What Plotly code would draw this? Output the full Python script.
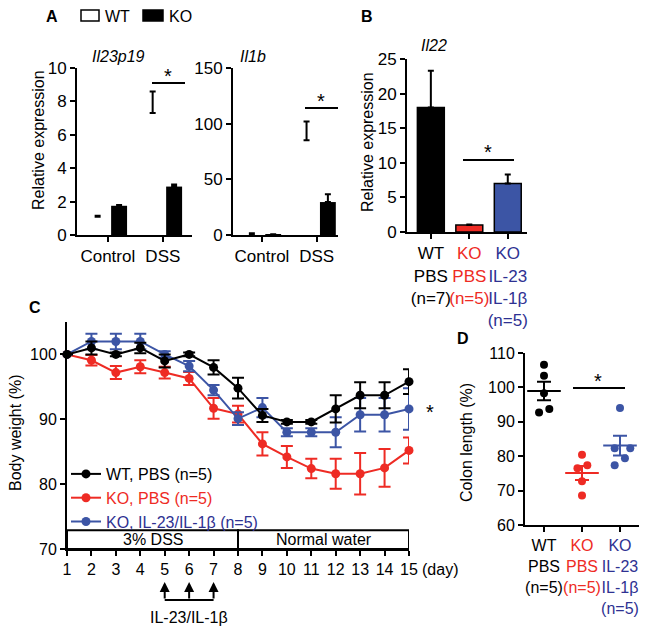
import numpy as np
import plotly.graph_objects as go

W, H = 653, 634
PAGE_PAD = 8  # the page body margin moves the figure by this much

RED = "#EE2B24"
BLUE = "#3C55A5"
BLUE_TXT = "#2E3192"
FONT = "Liberation Sans, Arial, sans-serif"

# panel A - qPCR, Il23p19 / Il1b (mean, sem)
a_groups = ["Control", "DSS"]
il23_wt = [1.1, 7.3]
il23_wt_sem = [0.05, 1.3]
il23_ko = [1.75, 2.9]
il23_ko_sem = [0.05, 0.12]
il1b_wt = [1.0, 85.0]
il1b_wt_sem = [0.5, 17.0]
il1b_ko = [0.5, 29.6]
il1b_ko_sem = [0.2, 7.0]

# panel B - Il22
b_labels = ["WT<br>PBS<br>(n=7)",
            f"<span style='color:{RED}'>KO<br>PBS<br>(n=5)</span>",
            f"<span style='color:{BLUE_TXT}'>KO<br>IL-23<br>IL-1β<br>(n=5)</span>"]
il22 = [18.0, 1.0, 7.0]
il22_sem = [5.3, 0.1, 1.3]

# panel C - body weight
days = list(range(1, 16))
wt_bw = [100, 101.0, 100.0, 101.0, 99.0, 100.0, 98.0, 94.8, 90.6, 89.6, 89.6, 91.6, 93.7, 93.7, 95.8]
wt_bw_sem = [0, 1.0, 0.3, 0.8, 1.0, 0.3, 1.1, 1.6, 1.0, 0.3, 0.3, 2.1, 2.0, 2.0, 1.9]
ko_bw = [100, 99.1, 97.2, 98.1, 97.2, 96.3, 91.7, 90.8, 86.2, 84.2, 82.4, 81.6, 81.6, 82.5, 85.2]
ko_bw_sem = [0, 0.8, 1.0, 1.0, 0.9, 1.0, 1.6, 1.3, 1.8, 1.7, 1.5, 2.3, 3.2, 2.9, 2.0]
il_bw = [100, 102.0, 102.0, 102.0, 100.0, 98.2, 94.5, 90.1, 91.8, 88.0, 88.0, 88.0, 90.7, 90.7, 91.6]
il_bw_sem = [0, 1.2, 1.2, 1.2, 0.5, 0.8, 0.8, 1.0, 1.5, 0.6, 0.6, 2.3, 2.6, 2.6, 3.2]
dss_days = (1, 8)
water_days = (8, 15)
inject_days = [5, 6, 7]

# panel D - colon length
d_labels = ["WT<br>PBS<br>(n=5)",
            f"<span style='color:{RED}'>KO<br>PBS<br>(n=5)</span>",
            f"<span style='color:{BLUE_TXT}'>KO<br>IL-23<br>IL-1β<br>(n=5)</span>"]
colon_wt = [106.6, 103.4, 98.3, 93.7, 92.7]
colon_ko = [80.4, 76.5, 77.4, 72.7, 68.6]
colon_il = [94.0, 82.3, 82.3, 79.4, 77.4]
# horizontal spread of the dots (style only)
jitter = [[0, 0, 0, 0.14, -0.13],
          [0, -0.12, 0.14, 0, 0],
          [0, -0.14, 0.27, 0.13, -0.14]]


def px(x):
    return (x - PAGE_PAD) / W


def py(y):
    return 1 - (y - PAGE_PAD) / H


axis_style = dict(showline=True, linecolor="black", linewidth=2, ticks="outside",
                  ticklen=5, tickwidth=2, tickcolor="black", showgrid=False,
                  zeroline=False, automargin=False, tickangle=0,
                  tickfont=dict(size=16, color="black"))
big_ticks = dict(tickfont=dict(size=17, color="black"))

fig = go.Figure()


def up_err(sem):
    return dict(type="data", array=sem, arrayminus=[0] * len(sem), symmetric=False,
                color="black", thickness=2, width=3)


# A
for xa, ya, wt, wts, ko, kos in [("x", "y", il23_wt, il23_wt_sem, il23_ko, il23_ko_sem),
                                  ("x2", "y2", il1b_wt, il1b_wt_sem, il1b_ko, il1b_ko_sem)]:
    fig.add_trace(go.Bar(x=a_groups, y=wt, width=0.29, offset=-0.33, xaxis=xa, yaxis=ya,
                         marker=dict(color="white", line=dict(width=0)),
                         error_y=up_err(wts), showlegend=False))
    fig.add_trace(go.Bar(x=a_groups, y=ko, width=0.29, offset=0.06, xaxis=xa, yaxis=ya,
                         marker=dict(color="black", line=dict(width=0)),
                         error_y=up_err(kos), showlegend=False))

# B
fig.add_trace(go.Bar(x=[0, 1, 2], y=il22, width=0.7, xaxis="x3", yaxis="y3",
                     marker=dict(color=["black", RED, BLUE], line=dict(color="black", width=1.5)),
                     error_y=up_err(il22_sem), showlegend=False))

# C
series = [("KO, PBS (n=5)", ko_bw, ko_bw_sem, RED, RED, 2),
          ("KO, IL-23/IL-1β (n=5)", il_bw, il_bw_sem, BLUE, BLUE_TXT, 3),
          ("WT, PBS (n=5)", wt_bw, wt_bw_sem, "black", "black", 1)]
for name, vals, sem, col, tcol, rank in series:
    fig.add_trace(go.Scatter(
        x=days, y=vals, xaxis="x4", yaxis="y4", mode="lines+markers",
        name=f"<span style='color:{tcol}'>{name}</span>", legendrank=rank,
        line=dict(color=col, width=2), marker=dict(color=col, size=9),
        error_y=dict(type="data", array=sem, color=col, thickness=2, width=6),
        cliponaxis=False))

# D
for i, (vals, col) in enumerate([(colon_wt, "black"), (colon_ko, RED), (colon_il, BLUE)]):
    fig.add_trace(go.Scatter(x=[i + j for j in jitter[i]], y=vals, xaxis="x5", yaxis="y5",
                             mode="markers", marker=dict(color=col, size=8), showlegend=False))
    m = float(np.mean(vals))
    s = float(np.std(vals, ddof=1) / np.sqrt(len(vals)))
    fig.add_trace(go.Scatter(x=[i], y=[m], xaxis="x5", yaxis="y5", mode="markers",
                             marker=dict(symbol="line-ew", size=24, line=dict(color=col, width=2)),
                             error_y=dict(type="data", array=[s], color=col, thickness=2, width=7),
                             showlegend=False))

fig.update_layout(
    width=W, height=H, margin=dict(l=0, r=0, t=0, b=0, autoexpand=False),
    paper_bgcolor="white", plot_bgcolor="white",
    font=dict(family=FONT, size=16, color="black"),
    barmode="overlay",
    xaxis=dict(axis_style, **big_ticks, domain=[px(77), px(192)], range=[-0.56, 1.53], anchor="y"),
    yaxis=dict(axis_style, **big_ticks, domain=[py(235), py(68)], range=[0, 10], dtick=2, anchor="x"),
    xaxis2=dict(axis_style, **big_ticks, domain=[px(233), px(338)], range=[-0.53, 1.39], anchor="y2"),
    yaxis2=dict(axis_style, **big_ticks, domain=[py(235), py(68)], range=[0, 150], dtick=50, anchor="x2"),
    xaxis3=dict(axis_style, **big_ticks, domain=[px(407), px(527)], range=[-0.62, 2.5], anchor="y3",
                tickvals=[0, 1, 2], ticktext=b_labels),
    yaxis3=dict(axis_style, **big_ticks, domain=[py(232), py(59)], range=[0, 25], dtick=5, anchor="x3"),
    xaxis4=dict(axis_style, domain=[px(67), px(409)], range=[1, 15], anchor="y4",
                tickvals=days),
    yaxis4=dict(axis_style, domain=[py(549), py(322)], range=[70, 105],
                tickvals=[70, 80, 90, 100], anchor="x4"),
    xaxis5=dict(axis_style, domain=[px(525), px(639)], range=[-0.5, 2.5], anchor="y5",
                tickvals=[0, 1, 2], ticktext=d_labels),
    yaxis5=dict(axis_style, domain=[py(525), py(353)], range=[60, 110], dtick=10, anchor="x5"),
    legend=dict(x=px(66), y=py(457), xanchor="left", yanchor="top",
                bgcolor="rgba(0,0,0,0)", font=dict(size=16), tracegroupgap=0),
)

ann = []
shapes = []


def text(x, y, t, size=16, **kw):
    ann.append(dict(x=px(x), y=py(y), xref="paper", yref="paper", text=t, showarrow=False,
                    xanchor="center", yanchor="middle",
                    font=dict(size=size, color=kw.pop("color", "black")), **kw))


def hline(x0, x1, y):
    shapes.append(dict(type="line", xref="paper", yref="paper", x0=px(x0), x1=px(x1),
                       y0=py(y), y1=py(y), line=dict(color="black", width=2)))


# panel letters
for letter, x, y in [("A", 52, 16), ("B", 367, 16), ("C", 35, 308), ("D", 463, 338)]:
    text(x, y, f"<b>{letter}</b>", size=16)

# WT / KO key for panel A
shapes.append(dict(type="rect", xref="paper", yref="paper", x0=px(81), x1=px(99),
                   y0=py(21), y1=py(10), line=dict(color="black", width=1.5), fillcolor="white"))
shapes.append(dict(type="rect", xref="paper", yref="paper", x0=px(143), x1=px(163),
                   y0=py(21), y1=py(10), line=dict(color="black", width=1.5), fillcolor="black"))
text(117, 16, "WT", size=16)
text(180, 16, "KO", size=16)

# gene titles
text(118, 57, "<i>Il23p19</i>")
text(253, 57, "<i>Il1b</i>")
text(434, 46, "<i>Il22</i>")

# y titles
for x, y, t in [(38, 140, "Relative expression"), (367, 142, "Relative expression"),
                (15, 433, "Body weight (%)"), (467, 443, "Colon length (%)")]:
    text(x, y, t, textangle=-90)

# significance
for x0, x1, y, sx, sy in [(152, 185, 83, 168, 76), (305, 338, 108, 321, 101),
                          (463, 514, 160, 488, 152), (573, 625, 388, 598, 381)]:
    hline(x0, x1, y)
    text(sx, sy, "*", size=20)
text(430, 412, "*", size=20)

# DSS / water box
for d0, d1, label in [(dss_days[0], dss_days[1], "3% DSS"), (water_days[0], water_days[1], "Normal water")]:
    shapes.append(dict(type="rect", xref="x4", yref="y4", x0=d0, x1=d1, y0=70, y1=72.9,
                       line=dict(color="black", width=2)))
    ann.append(dict(x=(d0 + d1) / 2, y=71.45, xref="x4", yref="y4", text=label,
                    showarrow=False, xanchor="center", yanchor="middle", font=dict(size=16)))
text(440, 569, "(day)")

# injection arrows
for d in inject_days:
    ann.append(dict(x=d, y=py(582), xref="x4", yref="paper", text="", showarrow=True,
                    ax=0, ay=18, arrowhead=2, arrowsize=1, arrowwidth=2, arrowcolor="black"))
shapes.append(dict(type="line", xref="x4", yref="paper", x0=inject_days[0], x1=inject_days[-1],
                   y0=py(600), y1=py(600), line=dict(color="black", width=2)))
ann.append(dict(x=np.mean(inject_days), y=py(617), xref="x4", yref="paper", text="IL-23/IL-1β",
                showarrow=False, xanchor="center", yanchor="middle", font=dict(size=16)))

fig.update_layout(annotations=ann, shapes=shapes)
fig.write_html("out.html")
